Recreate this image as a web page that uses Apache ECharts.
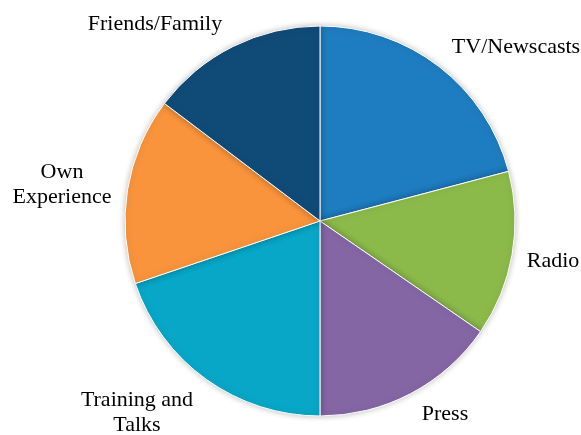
<!DOCTYPE html>
<html>
<head>
<meta charset="utf-8">
<script src="https://cdn.jsdelivr.net/npm/echarts@6/dist/echarts.min.js"></script>
<style>
html,body{margin:0;padding:0;background:#fff;}
#chart{width:581px;height:435px;}
</style>
</head>
<body>
<div id="chart"></div>
<script>
// 数据
var categories = ['TV/Newscasts', 'Radio', 'Press', 'Training and\nTalks', 'Own\nExperience', 'Friends/Family'];
var shares = [20.9, 13.7, 15.4, 19.8, 15.5, 14.7];
var colors = ['#1E7CC0', '#8CBA4A', '#8466A5', '#08A7C7', '#F9943C', '#104B77'];

// label spots (x, y) for each slice
var labelSpots = [[516, 47], [553, 261], [445, 414], [137, 413], [62, 185], [155, 24]];

var myChart = echarts.init(document.getElementById('chart'));

var option = {
    animation: false,
    color: colors,
    series: [{
        type: 'pie',
        center: [320, 221],
        radius: 195,
        startAngle: 90,
        clockwise: true,
        data: categories.map(function (c, i) {
            return { name: c, value: shares[i] };
        }),
        itemStyle: {
            borderColor: '#ffffff',
            borderWidth: 1,
            shadowBlur: 6,
            shadowColor: 'rgba(0,0,0,0.25)'
        },
        label: {
            show: true,
            position: 'outside',
            formatter: '{b}',
            fontFamily: "'Liberation Serif', 'Times New Roman', serif",
            fontSize: 22,
            color: '#000',
            lineHeight: 25,
            align: 'center',
            overflow: 'none',
            width: 200
        },
        labelLine: { show: false },
        labelLayout: function (params) {
            var p = labelSpots[params.dataIndex];
            return { x: p[0], y: p[1], align: 'center', verticalAlign: 'middle' };
        },
        emphasis: { disabled: true }
    }]
};
myChart.setOption(option);
</script>
</body>
</html>
